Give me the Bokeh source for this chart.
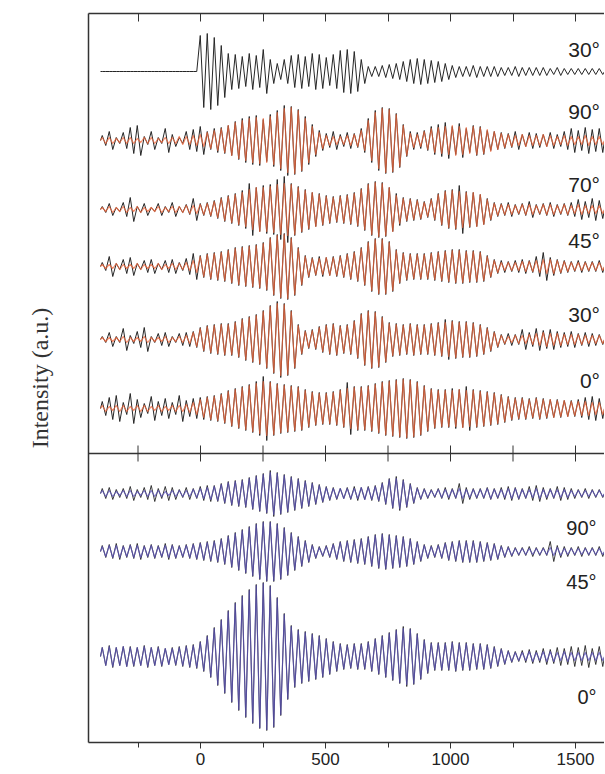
import numpy as np
from bokeh.plotting import figure
from bokeh.models import Range1d, LinearAxis, FixedTicker, Span
from bokeh.embed import file_html
from bokeh.resources import INLINE
from bokeh.core.properties import value

# ---------------- data ----------------
# Time axis: one entry per oscillation cycle, starting at T_START, cycle length PERIOD
T_START = -400
PERIOD = 28

x_ticks = [0, 500, 1000, 1500]
x_minor_ticks = [-250, 250, 750, 1250]

# per-cycle amplitudes (a.u.)
top_30_meas = [0, 0, 0, 0, 0, 0, 0, 0, 0, 0, 0, 0, 0, 0,
               36, 38, 34, 26, 18, 17, 15, 18, 16, 22, 12, 8, 12, 16, 17, 15, 18, 17, 14, 17,
               21, 22, 20, 12, 5, 5, 6, 7, 8, 10, 12, 13, 12, 11, 10, 8, 6,
               5, 5, 6, 5, 5, 5, 4, 4, 5, 4, 4, 4, 4, 3, 4, 3, 3, 3, 3, 3, 3]

top_90_fit = [3, 3, 2, 3, 3, 2, 3, 3, 2, 3, 3, 4, 4, 5,
              6, 8, 10, 12, 15, 18, 20, 22, 23, 22, 24, 28, 32, 33, 30, 22, 14, 8, 5, 4,
              4, 5, 6, 10, 20, 28, 32, 31, 26, 15, 7, 6, 9, 12, 13, 14, 15, 14, 13, 14,
              13, 11, 9, 7, 6, 5, 6, 5, 5, 6, 5, 4, 5, 4, 4, 5, 4, 4]
top_90_meas = [5, 9, 3, 8, 13, 15, 4, 9, 3, 12, 6, 3, 9, 11,
               14, 9, 12, 13, 15, 19, 22, 24, 25, 21, 26, 30, 35, 34, 31, 24, 16, 10, 7, 9,
               6, 8, 7, 12, 22, 30, 33, 32, 27, 16, 9, 8, 10, 14, 16, 18, 14, 17, 12, 15,
               14, 10, 9, 8, 7, 9, 6, 8, 7, 6, 8, 6, 9, 12, 10, 13, 11, 12]

top_70_fit = [2, 3, 2, 3, 2, 3, 2, 2, 3, 2, 3, 3, 4, 4,
              5, 6, 8, 11, 13, 15, 17, 20, 22, 22, 23, 25, 26, 25, 22, 19, 17, 15, 13, 12,
              13, 14, 16, 20, 25, 27, 26, 22, 14, 11, 10, 9, 7, 10, 15, 18, 19, 18, 17, 17,
              15, 10, 6, 5, 5, 4, 5, 5, 4, 5, 5, 4, 5, 4, 5, 4, 4, 4]
top_70_meas = [3, 6, 2, 7, 12, 3, 6, 2, 6, 3, 7, 3, 5, 11,
               6, 7, 9, 12, 14, 16, 19, 26, 22, 24, 25, 30, 33, 26, 23, 20, 17, 16, 14, 13,
               14, 15, 17, 21, 26, 28, 27, 22, 16, 12, 11, 10, 8, 11, 16, 19, 20, 24, 18, 17,
               15, 11, 7, 6, 7, 5, 6, 8, 5, 6, 7, 5, 6, 7, 10, 8, 11, 9]

top_45_fit = [2, 2, 3, 2, 2, 3, 2, 2, 3, 2, 3, 3, 4,
              6, 10, 12, 13, 14, 16, 18, 19, 20, 21, 23, 28, 31, 32, 28, 18, 10, 8, 8, 9,
              9, 10, 12, 14, 18, 24, 27, 27, 24, 16, 13, 12, 12, 12, 13, 14, 15, 16, 16, 15,
              15, 14, 10, 6, 4, 4, 4, 5, 5, 6, 7, 7, 6, 5, 4, 4, 4, 4, 4]
top_45_meas = [4, 10, 3, 7, 9, 3, 6, 7, 3, 6, 7, 4, 8,
               13, 11, 13, 14, 15, 17, 19, 20, 21, 22, 24, 29, 32, 33, 29, 19, 11, 9, 10, 9,
               10, 11, 13, 15, 19, 25, 28, 28, 25, 17, 14, 13, 13, 13, 14, 15, 16, 17, 17, 16,
               16, 15, 11, 7, 6, 5, 6, 7, 6, 10, 14, 9, 7, 6, 5, 6, 5, 5, 6]

top_30_fit = [2, 2, 2, 3, 2, 2, 3, 2, 2, 3, 2, 3,
              4, 7, 11, 13, 14, 15, 15, 17, 20, 22, 24, 28, 33, 36, 35, 28, 14, 8, 9, 12,
              14, 15, 13, 14, 18, 25, 28, 27, 22, 16, 15, 14, 15, 14, 14, 15, 16, 17, 18, 17,
              17, 16, 14, 11, 7, 4, 3, 4, 4, 5, 6, 7, 6, 6, 5, 5, 5, 4, 4, 4]
top_30_meas2 = [3, 7, 3, 11, 4, 8, 12, 3, 6, 7, 3, 6,
                7, 8, 12, 14, 15, 16, 16, 18, 21, 23, 25, 29, 34, 38, 36, 29, 15, 9, 10, 13,
                15, 16, 14, 15, 19, 26, 29, 28, 23, 17, 16, 15, 16, 15, 15, 16, 17, 20, 19, 18,
                18, 17, 15, 12, 8, 5, 6, 5, 10, 7, 11, 9, 10, 8, 7, 8, 6, 7, 6, 5]

top_0_fit = [3, 2, 3, 3, 2, 3, 3, 2, 3, 2, 3, 3,
             4, 6, 9, 11, 12, 14, 17, 19, 21, 23, 25, 27, 26, 24, 23, 22, 21, 18, 16, 15,
             15, 16, 18, 20, 21, 21, 22, 24, 26, 27, 28, 29, 28, 26, 22, 19, 18, 18, 18, 19,
             18, 18, 17, 16, 15, 13, 11, 10, 10, 9, 10, 9, 9, 8, 8, 7, 7, 7, 6, 6]
top_0_meas = [7, 11, 13, 6, 15, 9, 5, 12, 7, 10, 6, 13,
              8, 10, 11, 12, 13, 15, 18, 20, 22, 24, 27, 32, 27, 25, 24, 23, 22, 19, 17, 16,
              16, 17, 19, 26, 22, 22, 23, 25, 27, 28, 29, 30, 29, 27, 23, 20, 19, 19, 20, 19,
              22, 19, 18, 17, 16, 14, 12, 11, 11, 10, 11, 10, 9, 9, 8, 8, 9, 11, 12, 10]

bot_90_fit = [3, 3, 2, 3, 3, 2, 3, 3, 3, 2, 3, 3, 3, 4,
              5, 6, 7, 9, 11, 12, 13, 15, 17, 19, 21, 20, 18, 16, 14, 12, 10, 8, 6, 5,
              5, 5, 5, 6, 6, 7, 10, 14, 15, 13, 9, 5, 4, 3, 4, 4, 4, 5, 4, 4,
              4, 5, 4, 4, 5, 5, 4, 4, 5, 4, 4, 4, 4, 3, 3, 3, 3, 3]
bot_90_meas = [5, 6, 4, 5, 7, 4, 6, 8, 5, 7, 6, 4, 6, 5,
               7, 8, 8, 10, 12, 13, 14, 16, 18, 20, 23, 21, 19, 17, 15, 13, 11, 9, 7, 6,
               5, 6, 7, 6, 7, 8, 11, 15, 17, 14, 10, 6, 5, 4, 5, 6, 5, 10, 6, 5,
               5, 6, 5, 6, 7, 6, 5, 7, 8, 6, 5, 7, 6, 5, 4, 5, 4, 4]

bot_45_fit = [5, 6, 6, 5, 6, 6, 5, 6, 5, 6, 6, 5, 6, 7,
              8, 9, 10, 12, 15, 18, 21, 24, 27, 29, 29, 27, 23, 18, 14, 10, 6, 4, 5, 7,
              9, 10, 11, 12, 14, 16, 17, 16, 15, 14, 12, 9, 6, 5, 6, 8, 9, 10, 10, 10,
              9, 8, 7, 5, 4, 3, 3, 3, 3, 3, 4, 4, 3, 3, 3, 3, 3, 3]
bot_45_meas = [6, 7, 8, 6, 7, 8, 6, 7, 6, 8, 7, 6, 7, 8,
               9, 10, 11, 13, 16, 19, 22, 25, 28, 30, 30, 28, 24, 19, 15, 11, 7, 5, 6, 8,
               10, 11, 12, 13, 15, 17, 18, 17, 16, 15, 13, 10, 7, 6, 7, 9, 10, 11, 11, 11,
               10, 9, 8, 6, 5, 4, 4, 5, 4, 4, 10, 6, 5, 4, 5, 4, 4, 5]

bot_0_fit = [9, 10, 9, 10, 9, 9, 10, 9, 9, 8, 8, 9, 10, 11,
             14, 20, 28, 36, 45, 53, 60, 66, 71, 73, 70, 58, 42, 30, 26, 24, 22, 20, 17, 14,
             12, 11, 12, 12, 14, 17, 20, 23, 26, 28, 27, 22, 16, 13, 13, 13, 14, 13, 13, 12,
             12, 11, 9, 7, 5, 4, 4, 5, 4, 5, 5, 4, 5, 4, 4, 4, 4, 4]
bot_0_meas = [9, 11, 9, 10, 10, 9, 11, 9, 10, 8, 9, 10, 11, 12,
              15, 21, 29, 37, 46, 54, 61, 67, 72, 74, 71, 59, 43, 31, 27, 25, 23, 21, 18, 15,
              13, 12, 13, 13, 15, 18, 21, 24, 27, 30, 28, 23, 17, 14, 14, 14, 15, 14, 14, 13,
              13, 12, 10, 8, 6, 5, 6, 7, 6, 8, 7, 9, 8, 10, 9, 11, 8, 10]

top_labels = ["30°", "90°", "70°", "45°", "30°", "0°"]
bot_labels = ["90°", "45°", "0°"]

# ---------------- layout (positions in the a.u. frame, 0 = bottom axis) ----------------
Y_MAX = 729
DIVIDER = 289
top_bases = [671, 602, 533, 476, 403, 334]
top_label_y = [693, 631, 558, 502, 428, 362]
bot_bases = [249, 191, 86]
bot_label_y = [215, 161, 46]
TOP_LABEL_X = 1598
BOT_LABEL_X = 1584

BLACK = "#262626"
ORANGE = "#f0663a"
BLUE = "#5a50b8"


def zigzag(amps, base):
    xs = [T_START]
    ys = [base]
    for k, a in enumerate(amps):
        x0 = T_START + k * PERIOD
        xs += [x0 + PERIOD * 0.25, x0 + PERIOD * 0.75]
        ys += [base + a, base - a]
    xs.append(T_START + len(amps) * PERIOD)
    ys.append(base)
    return xs, ys


p = figure(width=604, height=773,
           x_range=Range1d(-448, 1616), y_range=Range1d(0, Y_MAX),
           output_backend="svg", toolbar_location=None,
           min_border_left=88, min_border_right=0,
           min_border_top=13, min_border_bottom=31)
p.xgrid.visible = False
p.ygrid.visible = False
p.outline_line_color = None
p.background_fill_color = "white"
p.border_fill_color = "white"

# bottom axis (labelled)
xa = p.xaxis[0]
xa.ticker = FixedTicker(ticks=x_ticks, minor_ticks=x_minor_ticks)
xa.major_tick_in = 0
xa.major_tick_out = 6
xa.minor_tick_in = 0
xa.minor_tick_out = 5
xa.axis_line_width = 1.5
xa.axis_line_color = "#333333"
xa.major_tick_line_color = "#333333"
xa.minor_tick_line_color = "#333333"
xa.major_label_text_font = "Liberation Sans"
xa.major_label_text_font_size = "17px"
xa.major_label_text_color = "#222222"
xa.major_label_standoff = 4

# top axis: all ticks as unlabelled inward ticks
all_ticks = sorted(x_ticks + x_minor_ticks)
ta = LinearAxis(ticker=FixedTicker(ticks=[], minor_ticks=all_ticks))
ta.major_tick_line_color = None
ta.minor_tick_in = 8
ta.minor_tick_out = 0
ta.axis_line_width = 1.5
ta.axis_line_color = "#333333"
ta.minor_tick_line_color = "#333333"
p.add_layout(ta, "above")

# left axis: line + label only
ya = p.yaxis[0]
ya.ticker = FixedTicker(ticks=[], minor_ticks=[])
ya.major_tick_line_color = None
ya.minor_tick_line_color = None
ya.axis_line_width = 1.5
ya.axis_line_color = "#333333"
ya.axis_label = "Intensity (a.u.)"
ya.axis_label_text_font = "Liberation Serif"
ya.axis_label_text_font_style = "normal"
ya.axis_label_text_font_size = "24px"
ya.axis_label_text_color = "#333333"
ya.axis_label_standoff = 36

# divider between the two panels with inward ticks on both sides
p.add_layout(Span(location=DIVIDER, dimension="width", line_color="#333333", line_width=1.5))
p.segment(x0=all_ticks, x1=all_ticks,
          y0=[DIVIDER - 8] * len(all_ticks), y1=[DIVIDER + 8] * len(all_ticks),
          line_color="#333333", line_width=1)

# top panel: measurement (black) underneath, fit (orange) on top
top_meas = [top_30_meas, top_90_meas, top_70_meas, top_45_meas, top_30_meas2, top_0_meas]
top_fit = [None, top_90_fit, top_70_fit, top_45_fit, top_30_fit, top_0_fit]
for meas, fit, base in zip(top_meas, top_fit, top_bases):
    xs, ys = zigzag(meas, base)
    p.line(xs, ys, line_color=BLACK, line_width=1.0, line_join="round")
    if fit is not None:
        xs, ys = zigzag(fit, base)
        p.line(xs, ys, line_color=ORANGE, line_width=1.2, line_alpha=0.75, line_join="round")

# bottom panel: measurement (black) and fit (blue) on top
bot_meas = [bot_90_meas, bot_45_meas, bot_0_meas]
bot_fit = [bot_90_fit, bot_45_fit, bot_0_fit]
for meas, fit, base in zip(bot_meas, bot_fit, bot_bases):
    xs, ys = zigzag(meas, base)
    p.line(xs, ys, line_color=BLACK, line_width=0.9, line_join="round")
    xs, ys = zigzag(fit, base)
    p.line(xs, ys, line_color=BLUE, line_width=1.2, line_alpha=0.75, line_join="round")

# angle labels
p.text(x=[TOP_LABEL_X] * len(top_labels), y=top_label_y, text=top_labels,
       text_font=value("Liberation Sans"), text_font_size="21px",
       text_color="#222222", text_align="right", text_baseline="middle")
p.text(x=[BOT_LABEL_X] * len(bot_labels), y=bot_label_y, text=bot_labels,
       text_font=value("Liberation Sans"), text_font_size="20px",
       text_color="#222222", text_align="right", text_baseline="middle")

open("out.html", "w").write(file_html(p, INLINE))
